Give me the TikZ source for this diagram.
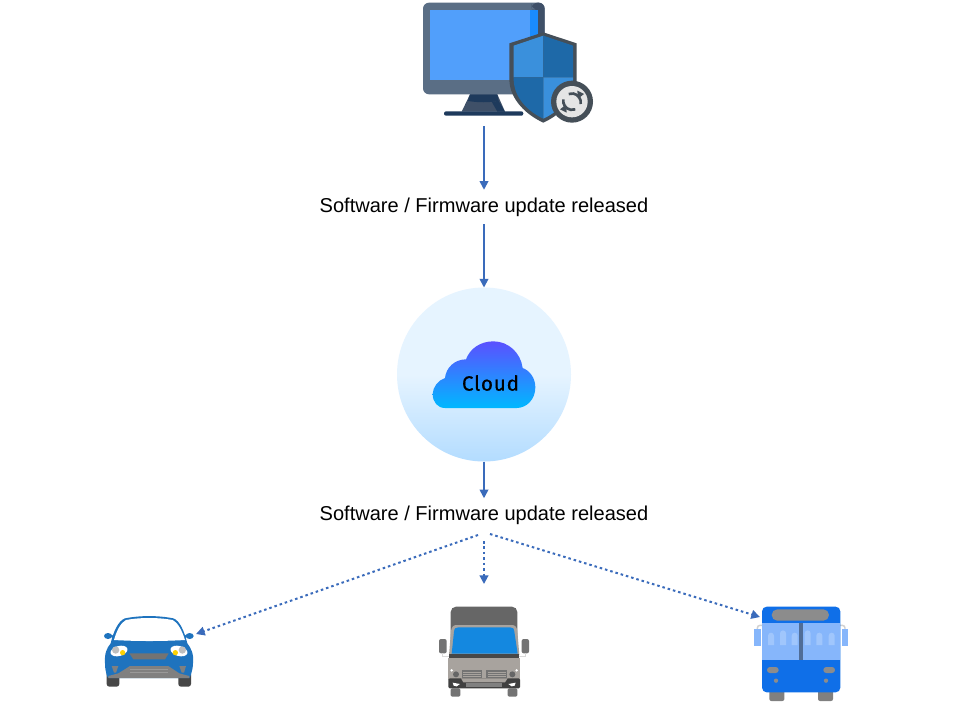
\documentclass[tikz,border=0pt]{standalone}
\usepackage{fontspec}
\setmainfont{Liberation Sans}
\newfontfamily\cloudfont[FakeBold=0.5,LetterSpace=4]{Fira Sans}
\usetikzlibrary{arrows.meta,shapes.geometric}
\definecolor{arrowblue}{HTML}{3A6BBB}
\definecolor{monbody}{HTML}{5A6E85}
\definecolor{mondark}{HTML}{3F5068}
\definecolor{monscreen}{HTML}{519FFB}
\definecolor{monstrip}{HTML}{1A8CFF}
\definecolor{navy}{HTML}{1E3A5C}
\definecolor{shieldedge}{HTML}{454F58}
\definecolor{shieldlight}{HTML}{3A90DC}
\definecolor{shielddark}{HTML}{1E69A8}
\definecolor{haloT}{HTML}{E6F4FF}
\definecolor{haloB}{HTML}{B3DCFF}
\definecolor{cloudT}{HTML}{5B50FF}
\definecolor{cloudB}{HTML}{00B8FF}
\definecolor{carblue}{HTML}{1E73BE}
\definecolor{busblue}{HTML}{0F6FE8}
\definecolor{buspale}{HTML}{86B6FB}
\definecolor{buspaler}{HTML}{A0C6FC}
\definecolor{truckgrey}{HTML}{666666}
\definecolor{truckbody}{HTML}{A8A39E}
\definecolor{truckglass}{HTML}{1488E0}
\newcommand{\capline}{\raisebox{-1.3pt}{Software / Firmware update released}}
\tikzset{
  zoomat/.style 2 args={shift={(#1,#2)},x=.25pt,y=-.25pt},
  flow/.style={draw=arrowblue,line width=1.3pt,-{Triangle[length=6.5pt,width=6.5pt]}},
  dotflow/.style={flow,line width=1.5pt,dash pattern=on 1.9pt off 2.2pt},
  caption/.style={font=\fontsize{15.03pt}{17pt}\selectfont,inner sep=0pt,minimum height=25.5pt,text=black},
  hidden/.style={inner sep=0pt,outer sep=0pt,draw=none},
}
\begin{document}
\begin{tikzpicture}[x=.75pt,y=-.75pt]
\useasboundingbox (0,0) rectangle (969,703);
\fill[white] (0,0) rectangle (969,703);

% ---------- monitor + shield
\begin{scope}[zoomat={410}{0}]
  \fill[monbody,rounded corners=4.5pt] (39,8) rectangle (404,283);
  \fill[mondark,rounded corners=4.5pt] (365,8) -- (404,8) -- (404,120) -- (383,120) -- (383,29) -- (365,29) -- cycle;
  \fill[monscreen] (60,29) rectangle (360,239);
  \fill[monstrip] (360,29) rectangle (383,239);
  \fill[mondark] (180,283) -- (262,283) -- (285,335) -- (155,335) -- cycle;
  \fill[navy] (180,283) -- (262,283) -- (266,303) .. controls (235,308) and (205,308) .. (174,303) -- cycle;
  \fill[navy] (245,305) -- (266,303) -- (285,335) -- (262,335) -- cycle;
  \fill[navy,rounded corners=1.5pt] (102,334) rectangle (340,347);
  \fill[shieldedge] (400,97) -- (500,130) -- (500,240) .. controls (498,300) and (450,345) .. (400,368) .. controls (350,345) and (300,300) .. (298,240) -- (298,130) -- cycle;
  \fill[shieldlight] (400,107) -- (311,137) -- (311,232) -- (400,232) -- cycle;
  \fill[shielddark] (400,107) -- (489,137) -- (489,232) -- (400,232) -- cycle;
  \fill[shielddark] (311,232) -- (400,232) -- (400,356) .. controls (355,335) and (313,295) .. (311,240) -- cycle;
  \fill[shieldlight] (489,232) -- (400,232) -- (400,356) .. controls (445,335) and (487,295) .. (489,240) -- cycle;
  \fill[shieldedge] (486,305) circle (63);
  \fill[white!90!black] (486,305) circle (47);
  \draw[shieldedge,line width=2pt] (460,298) arc (190:70:27);
  \draw[shieldedge,line width=2pt] (512,312) arc (10:-110:27);
  \fill[shieldedge] (502,272) -- (522,282) -- (504,296) -- cycle;
  \fill[shieldedge] (470,338) -- (450,328) -- (468,314) -- cycle;
\end{scope}
\node[hidden,minimum width=127.5pt,minimum height=94.5pt] (monitor) at (484,63) {};

% ---------- caption 1
\node[caption] (release) at (484,207) {\capline};

% ---------- cloud
\node[circle,hidden,minimum size=130.5pt] (cloud) at (484,374.5) {};
\shade[top color=haloT,bottom color=haloB,middle color=haloT] (484,374.5) circle (87);
\begin{scope}[zoomat={390}{280}]
  \shade[top color=cloudT,bottom color=cloudB]
    (165,384) .. controls (143,384) and (128,366) .. (128,342)
    .. controls (128,322) and (145,300) .. (165,294)
    .. controls (168,262) and (195,238) .. (228,238)
    .. controls (240,205) and (272,184) .. (310,184)
    .. controls (355,184) and (392,218) .. (398,264)
    .. controls (420,272) and (436,295) .. (436,322)
    .. controls (436,358) and (410,384) .. (380,384) -- cycle;
\end{scope}
\node[hidden,font=\cloudfont\fontsize{15.5pt}{17pt}\selectfont,text=black] (cloudtext) at (490.5,383) {Cloud};

% ---------- caption 2
\node[caption] (deliver) at (484,515.5) {\capline};

% ---------- car
\begin{scope}[zoomat={90}{600}]
  \fill[black!72,rounded corners=2pt] (50,215) rectangle (88,260);
  \fill[black!72,rounded corners=2pt] (265,215) rectangle (303,260);
  \fill[carblue] (54,108) ellipse (12 and 9);
  \fill[carblue] (299,108) ellipse (12 and 9);
  \fill[carblue] (60,102) -- (75,110) -- (70,122) -- cycle;
  \fill[carblue] (293,102) -- (278,110) -- (283,122) -- cycle;
  \fill[carblue] (62,130) .. controls (70,95) and (85,62) .. (105,55) .. controls (150,46) and (205,46) .. (250,55) .. controls (270,62) and (283,95) .. (292,130)
     .. controls (303,145) and (312,160) .. (309,190) .. controls (308,215) and (300,232) .. (298,234) -- (55,234) .. controls (52,232) and (45,215) .. (45,190) .. controls (43,160) and (50,145) .. (62,130) -- cycle;
  \fill[white] (72,120) .. controls (80,92) and (92,68) .. (108,60) .. controls (150,52) and (205,52) .. (248,60) .. controls (264,68) and (276,92) .. (285,120) .. controls (215,124) and (140,124) .. (72,120) -- cycle;
  \fill[white,rotate around={15:(87,153)}] (87,153) ellipse (26 and 15);
  \fill[white,rotate around={-15:(267,153)}] (267,153) ellipse (26 and 15);
  \fill[black!25] (77,150) circle (11);
  \fill[black!25] (277,150) circle (11);
  \fill[yellow!70!orange] (98,158) circle (8);
  \fill[yellow!70!orange] (256,158) circle (8);
  \fill[black!55] (118,160) -- (236,160) -- (225,178) -- (130,178) -- cycle;
  \fill[black!50] (55,234) -- (55,228) -- (85,220) -- (120,198) -- (235,198) -- (268,220) -- (298,228) -- (298,234) -- cycle;
  \fill[black!50] (65,198) -- (85,198) -- (78,218) -- (72,218) -- cycle;
  \fill[black!50] (268,198) -- (288,198) -- (282,218) -- (275,218) -- cycle;
  \fill[black!40] (120,207) rectangle (235,210);
  \fill[black!40] (120,216) rectangle (235,219);
\end{scope}
\node[hidden,minimum width=69pt,minimum height=30pt] (car) at (150,634) {};

% ---------- truck
\begin{scope}[zoomat={425}{595}]
  \fill[truckgrey,rounded corners=4pt] (77,180) -- (77,35) -- (277,35) -- (277,180) -- cycle;
  \fill[black!55,rounded corners=1.5pt] (42,132) rectangle (65,175);
  \fill[black!55,rounded corners=1.5pt] (290,132) rectangle (312,175);
  \draw[black!15,line width=.6pt] (52,175) -- (52,183) -- (72,183);
  \draw[black!15,line width=.6pt] (302,175) -- (302,183) -- (283,183);
  \fill[black!55,rounded corners=1pt] (77,280) rectangle (106,305);
  \fill[black!55,rounded corners=1pt] (248,280) rectangle (277,305);
  \fill[truckbody] (72,180) -- (78,108) .. controls (80,95) and (85,90) .. (95,90) -- (260,90) .. controls (270,90) and (275,95) .. (277,108) -- (283,180) -- cycle;
  \fill[truckglass] (80,176) -- (87,110) .. controls (88,100) and (92,97) .. (100,97) -- (255,97) .. controls (263,97) and (267,100) .. (268,110) -- (278,176) -- cycle;
  \fill[black!72] (72,178) rectangle (283,190);
  \fill[truckbody] (70,190) rectangle (285,255);
  \fill[black!75,rounded corners=1pt] (70,250) -- (285,250) -- (285,280) -- (70,280) -- cycle;
  \fill[truckbody] (108,250) -- (248,250) -- (240,262) -- (115,262) -- cycle;
  \fill[black!50] (122,265) rectangle (232,275);
  \fill[black!55] (110,224) rectangle (172,250);
  \fill[black!55] (184,224) rectangle (245,250);
  \foreach \y in {231,238,244} {
    \fill[truckbody] (114,\y) rectangle (168,\y+2);
    \fill[truckbody] (188,\y) rectangle (242,\y+2);
  }
  \fill[black!60] (93,238) circle (9);
  \fill[black!60] (262,238) circle (9);
  \fill[white] (80,226) circle (4);
  \fill[white] (275,226) circle (4);
  \fill[white] (83,263) -- (105,267) -- (95,274) -- (86,272) -- cycle;
  \fill[white] (272,263) -- (250,267) -- (260,274) -- (269,272) -- cycle;
\end{scope}
\node[hidden,minimum width=69pt,minimum height=84pt] (truck) at (484,640) {};

% ---------- bus
\begin{scope}[zoomat={740}{595}]
  \fill[black!50,rounded corners=1.5pt] (88,285) rectangle (133,318);
  \fill[black!50,rounded corners=1.5pt] (234,285) rectangle (279,318);
  \draw[black!18,line width=1.1pt,rounded corners=2pt] (52,105) -- (52,91) -- (68,91);
  \draw[black!18,line width=1.1pt,rounded corners=2pt] (315,105) -- (315,91) -- (300,91);
  \fill[buspale] (43,103) rectangle (62,152);
  \fill[buspale] (306,103) rectangle (324,152);
  \fill[busblue,rounded corners=3.5pt] (66,35) rectangle (301,292);
  \fill[black!45,rounded corners=4.2pt] (95,43) rectangle (267,77);
  \fill[buspale] (66,85) rectangle (301,195);
  \fill[buspaler] (84,150) -- (84,122) arc (180:360:9) -- (102,150) -- cycle;
  \fill[buspaler] (120,150) -- (120,115) arc (180:360:9) -- (138,150) -- cycle;
  \fill[buspaler] (155,150) -- (155,122) arc (180:360:9) -- (173,150) -- cycle;
  \fill[buspaler] (194,150) -- (194,115) arc (180:360:9) -- (212,150) -- cycle;
  \fill[buspaler] (229,150) -- (229,122) arc (180:360:9) -- (247,150) -- cycle;
  \fill[buspaler] (266,150) -- (266,122) arc (180:360:9) -- (284,150) -- cycle;
  \fill[black!40!buspale] (178,85) rectangle (190,195);
  \fill[black!45,rounded corners=2.2pt] (81,216) rectangle (116,234);
  \fill[black!45,rounded corners=2.2pt] (250,216) rectangle (285,234);
  \fill[black!45] (108,257) circle (6.5);
  \fill[black!45] (258,257) circle (6.5);
\end{scope}
\node[hidden,minimum width=61.5pt,minimum height=30pt] (bus) at (801,617) {};

% ---------- connectors
\coordinate (fanL) at (478,535);
\coordinate (fanC) at (484,541);
\coordinate (fanR) at (490,534);
\draw[flow] (monitor.south) -- (release.north);
\draw[flow] (release.south) -- (cloud.north);
\draw[flow] (cloud.south) -- (deliver.north);
\draw[dotflow] (fanL) -- (car.east);
\draw[dotflow] (fanC) -- (truck.north);
\draw[dotflow] (fanR) -- (bus.west);
\end{tikzpicture}
\end{document}
